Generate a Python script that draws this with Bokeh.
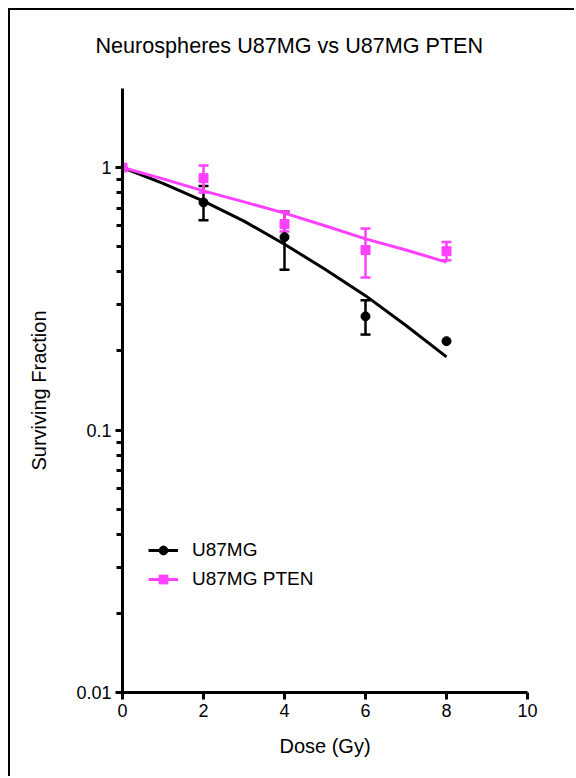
from bokeh.plotting import figure
from bokeh.models import (Range1d, FixedTicker, Whisker, TeeHead, ColumnDataSource,
                          Legend, LegendItem, Title)
from bokeh.embed import file_html
from bokeh.resources import INLINE

# Measured surviving fractions (mean, with error bar limits)
dose = [0, 2, 4, 6, 8]
u87_sf = [1.0, 0.736, 0.543, 0.271, 0.218]
pten_sf = [1.0, 0.911, 0.609, 0.485, 0.480]

u87_err_dose = [2, 4, 6]
u87_upper = [0.85, 0.68, 0.312]
u87_lower = [0.629, 0.408, 0.231]

pten_err_dose = [2, 4, 6, 8]
pten_upper = [1.018, 0.68, 0.586, 0.52]
pten_lower = [0.803, 0.571, 0.381, 0.443]

# Fitted survival curves
fit_dose = [0, 1, 2, 3, 4, 5, 6, 7, 8]
u87_fit = [1.0, 0.87, 0.745, 0.625, 0.51, 0.41, 0.325, 0.25, 0.19]
pten_fit = [1.0, 0.905, 0.815, 0.74, 0.67, 0.60, 0.535, 0.485, 0.436]

x_ticks = [0, 2, 4, 6, 8, 10]
y_major = [0.01, 0.1, 1]

FONT = "Liberation Sans"
BLACK = "#000000"
PINK = "#ff40ff"

p = figure(width=566, height=768, output_backend="svg", toolbar_location=None,
           title=None,
           y_axis_type="log", x_range=Range1d(0, 10), y_range=Range1d(0.01, 2),
           min_border_left=112, min_border_right=49, min_border_top=78,
           min_border_bottom=86)
p.styles = {"margin-left": "8px", "margin-top": "8px",
            "border-left": "2px solid black", "border-top": "2px solid black"}
p.outline_line_color = None
p.grid.visible = False
p.background_fill_color = "white"
p.border_fill_color = "white"

# title, with a blank spacer line between it and the plot frame
p.add_layout(Title(text=" ", text_font_size="10px", standoff=0), "above")
p.add_layout(Title(text="Neurospheres U87MG vs U87MG PTEN", align="left",
                   offset=-27, standoff=36, text_font=FONT,
                   text_font_size="21.6px", text_font_style="normal",
                   text_color=BLACK), "above")

# axes
y_minor = [m * d for d in (0.01, 0.1) for m in range(2, 10)]
p.yaxis.ticker = FixedTicker(ticks=y_major, minor_ticks=y_minor)
p.yaxis.major_label_overrides = {0.01: "0.01", 0.1: "0.1", 1: "1"}
p.xaxis.ticker = FixedTicker(ticks=x_ticks, minor_ticks=[])
for ax in (p.xaxis[0], p.yaxis[0]):
    ax.axis_line_width = 3
    ax.axis_line_color = BLACK
    ax.major_tick_line_width = 3
    ax.major_tick_line_color = BLACK
    ax.major_tick_out = 7
    ax.major_tick_in = 0
    ax.minor_tick_line_width = 3
    ax.minor_tick_line_color = BLACK
    ax.minor_tick_out = 6
    ax.minor_tick_in = 0
    ax.major_label_text_font = FONT
    ax.major_label_text_font_size = "18px"
    ax.major_label_text_color = BLACK
    ax.axis_label_text_font = FONT
    ax.axis_label_text_font_size = "20px"
    ax.axis_label_text_font_style = "normal"
    ax.axis_label_text_color = BLACK
    ax.major_label_standoff = 4
p.xaxis.axis_label = "Dose (Gy)"
p.xaxis.axis_label_standoff = 15
p.yaxis.axis_label = "Surviving Fraction"
p.yaxis.axis_label_standoff = 23

# U87MG
u87_err = ColumnDataSource(dict(x=u87_err_dose, upper=u87_upper, lower=u87_lower))
p.add_layout(Whisker(source=u87_err, base="x", upper="upper", lower="lower",
                     line_color=BLACK, line_width=2.5,
                     upper_head=TeeHead(size=10, line_color=BLACK, line_width=2.5),
                     lower_head=TeeHead(size=10, line_color=BLACK, line_width=2.5)))
u87_line = p.line(fit_dose, u87_fit, line_color=BLACK, line_width=3)
u87_pts = p.scatter(dose, u87_sf, marker="circle", size=9, fill_color=BLACK,
                    line_color=BLACK)

# U87MG PTEN
pten_err = ColumnDataSource(dict(x=pten_err_dose, upper=pten_upper, lower=pten_lower))
p.add_layout(Whisker(source=pten_err, base="x", upper="upper", lower="lower",
                     line_color=PINK, line_width=2.5,
                     upper_head=TeeHead(size=10, line_color=PINK, line_width=2.5),
                     lower_head=TeeHead(size=10, line_color=PINK, line_width=2.5)))
pten_line = p.line(fit_dose, pten_fit, line_color=PINK, line_width=3)
pten_pts = p.scatter(dose, pten_sf, marker="square", size=9, fill_color=PINK,
                     line_color=PINK)

legend = Legend(items=[LegendItem(label="U87MG", renderers=[u87_line, u87_pts]),
                       LegendItem(label="U87MG PTEN", renderers=[pten_line, pten_pts])],
                location=(26, 102), margin=0, padding=0, spacing=7,
                glyph_width=30, glyph_height=22, label_height=22,
                label_standoff=14, label_text_font=FONT,
                label_text_font_size="19px", label_text_color=BLACK,
                border_line_alpha=0, background_fill_alpha=0)
p.add_layout(legend)

open("out.html", "w").write(file_html(p, INLINE))
